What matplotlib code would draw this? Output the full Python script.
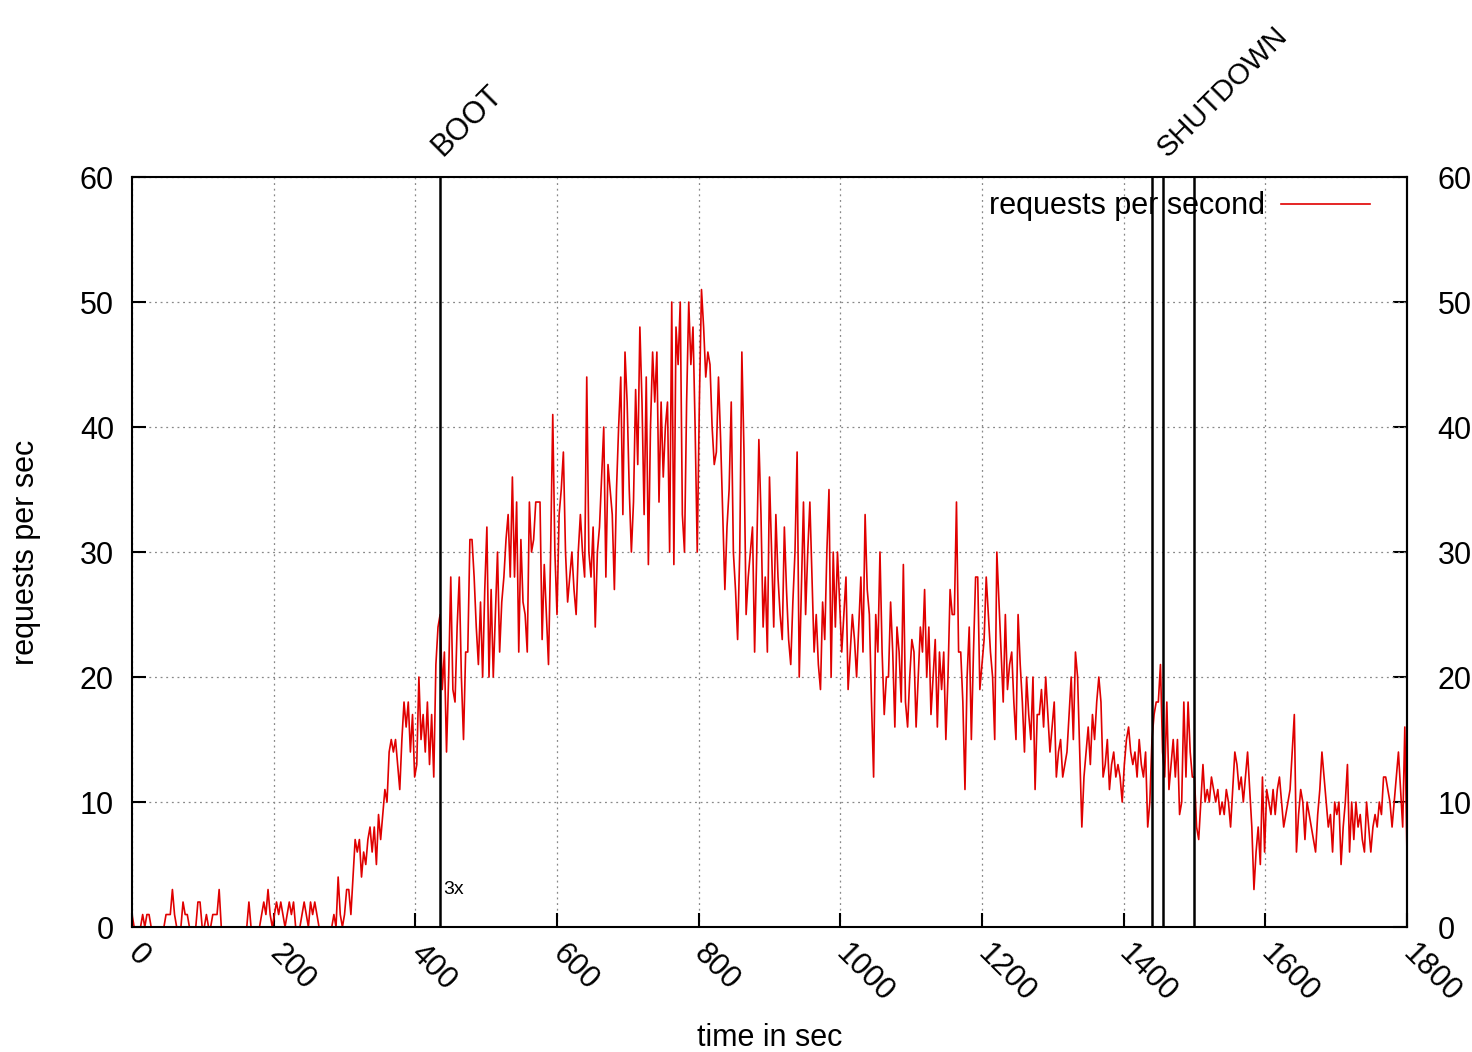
import numpy as np
import matplotlib
matplotlib.use('Agg')
import matplotlib.pyplot as plt

plt.rcParams['font.family'] = ['Liberation Sans', 'DejaVu Sans']

step = 3
rps_0_5min = [
    1, 0, 0, 0, 0, 1, 0, 1, 1, 0, 0, 0, 0, 0, 0, 0, 1, 1, 1, 3,
    1, 0, 0, 0, 2, 1, 1, 0, 0, 0, 0, 2, 2, 0, 0, 1, 0, 0, 1, 1,
    1, 3, 0, 0, 0, 0, 0, 0, 0, 0, 0, 0, 0, 0, 0, 2, 0, 0, 0, 0,
    0, 1, 2, 1, 3, 1, 0, 1, 2, 1, 2, 1, 0, 1, 2, 1, 2, 0, 0, 0,
    1, 2, 1, 0, 2, 1, 2, 1, 0, 0, 0, 0, 0, 0, 0, 1, 0, 4, 1, 0,
]
rps_5_10min = [
    1, 3, 3, 1, 4, 7, 6, 7, 4, 6, 5, 7, 8, 6, 8, 5, 9, 7, 9, 11,
    10, 14, 15, 14, 15, 13, 11, 15, 18, 16, 18, 14, 17, 12, 13, 20, 15, 17, 14, 18,
    13, 17, 12, 21, 24, 25, 19, 22, 14, 20, 28, 19, 18, 24, 28, 20, 15, 22, 22, 31,
    31, 28, 24, 21, 26, 20, 27, 32, 20, 27, 20, 25, 30, 22, 26, 28, 31, 33, 28, 36,
    28, 34, 22, 31, 26, 25, 22, 34, 30, 31, 34, 34, 34, 23, 29, 25, 21, 30, 41, 30,
]
rps_10_15min = [
    25, 33, 35, 38, 30, 26, 28, 30, 27, 25, 30, 33, 30, 28, 44, 30, 28, 32, 24, 30,
    32, 36, 40, 28, 37, 35, 33, 27, 35, 40, 44, 33, 46, 42, 35, 30, 34, 43, 37, 48,
    42, 33, 44, 29, 40, 46, 42, 46, 34, 42, 36, 40, 42, 30, 50, 29, 48, 45, 50, 33,
    30, 42, 50, 45, 48, 40, 30, 42, 51, 48, 44, 46, 45, 40, 37, 38, 44, 39, 33, 27,
    32, 35, 42, 30, 27, 23, 30, 46, 38, 25, 28, 30, 32, 22, 30, 39, 33, 24, 28, 22,
]
rps_15_20min = [
    36, 30, 24, 33, 28, 25, 23, 32, 27, 23, 21, 26, 30, 38, 20, 27, 34, 25, 30, 34,
    28, 22, 25, 21, 19, 26, 23, 30, 35, 20, 30, 24, 30, 26, 22, 25, 28, 19, 22, 25,
    23, 20, 24, 28, 22, 33, 27, 25, 18, 12, 25, 22, 30, 22, 17, 20, 20, 26, 22, 16,
    24, 22, 18, 29, 18, 16, 20, 23, 22, 16, 20, 24, 22, 27, 20, 24, 17, 20, 23, 16,
    22, 19, 22, 15, 20, 27, 25, 25, 34, 22, 22, 18, 11, 20, 24, 15, 22, 28, 28, 19,
]
rps_20_25min = [
    21, 23, 28, 25, 22, 20, 15, 30, 26, 22, 18, 25, 19, 21, 22, 18, 15, 25, 21, 18,
    14, 20, 17, 15, 20, 11, 17, 17, 19, 16, 20, 17, 14, 16, 18, 12, 14, 15, 12, 13,
    14, 17, 20, 15, 22, 20, 14, 8, 12, 14, 16, 13, 17, 15, 18, 20, 18, 12, 13, 15,
    11, 13, 14, 12, 13, 12, 10, 13, 15, 16, 14, 13, 14, 12, 15, 13, 12, 14, 8, 10,
    15, 17, 18, 18, 21, 14, 12, 18, 11, 13, 15, 12, 15, 9, 10, 18, 12, 18, 14, 12,
]
rps_25_30min = [
    12, 8, 7, 10, 13, 10, 11, 10, 12, 11, 10, 11, 9, 10, 9, 11, 10, 8, 11, 14,
    13, 11, 12, 10, 12, 14, 11, 8, 3, 6, 8, 5, 12, 6, 11, 10, 9, 11, 9, 11,
    12, 10, 8, 9, 10, 11, 14, 17, 6, 9, 11, 10, 7, 10, 9, 8, 7, 6, 9, 11,
    14, 12, 10, 8, 9, 6, 10, 9, 10, 5, 8, 10, 13, 6, 10, 7, 10, 8, 9, 7,
    6, 10, 8, 6, 8, 9, 8, 10, 9, 12, 12, 11, 10, 8, 10, 12, 14, 11, 8, 16, 6,
]

boot_time = 435
shutdown_times = [1440, 1455, 1500]
x_ticks = [0, 200, 400, 600, 800, 1000, 1200, 1400, 1600, 1800]
y_ticks = [0, 10, 20, 30, 40, 50, 60]

rps = np.array(rps_0_5min + rps_5_10min + rps_10_15min
               + rps_15_20min + rps_20_25min + rps_25_30min)
seconds = np.arange(len(rps)) * step

fs = 22

fig = plt.figure(figsize=(14.72, 10.52), dpi=100)
ax = fig.add_axes([0.0897, 0.1188, 0.8661, 0.7129])

ax.plot(seconds, rps, color='#e00000', lw=1.2, label='requests per second')

# event markers
ax.axvline(boot_time, color='black', lw=1.8)
for t in shutdown_times:
    ax.axvline(t, color='black', lw=1.8)

ax.annotate('BOOT', xy=(boot_time, 60), xytext=(5, 11), textcoords='offset points',
            rotation=45, rotation_mode='anchor', ha='left', va='bottom', fontsize=fs)
ax.annotate('SHUTDOWN', xy=(shutdown_times[1], 60), xytext=(7, 11), textcoords='offset points',
            rotation=45, rotation_mode='anchor', ha='left', va='bottom', fontsize=21)
ax.text(boot_time + 5, 3, '3x', fontsize=14, ha='left', va='center')

ax.set_xlim(0, 1800)
ax.set_ylim(0, 60)
ax.set_xticks(x_ticks)
ax.set_yticks(y_ticks)
ax.set_xticklabels([str(v) for v in x_ticks], rotation=-45, rotation_mode='anchor',
                   ha='left', va='center')
ax.grid(True, color='#888888', linestyle=(0, (1.5, 3)), lw=0.9)

ax.tick_params(axis='y', direction='in', length=10, width=1.5, labelsize=fs,
               left=True, right=False, labelleft=True, labelright=False, pad=13)
ax.tick_params(axis='x', direction='in', length=10, width=1.5, labelsize=fs,
               bottom=True, top=False, pad=16)
for s in ax.spines.values():
    s.set_linewidth(1.5)

# mirrored y axis on the right, labels a bit further out
right = ax.secondary_yaxis('right')
right.set_yticks(y_ticks)
right.tick_params(direction='in', length=10, width=1.5, labelsize=fs, pad=22)
right.spines['right'].set_linewidth(1.5)

ax.set_xlabel('time in sec', fontsize=fs, va='center')
ax.xaxis.set_label_coords(0.5, -0.148)
ax.set_ylabel('requests per sec', fontsize=fs, va='center')
ax.yaxis.set_label_coords(-0.083, 0.5)

ax.legend(loc='center right', bbox_to_anchor=(0.971, 0.961), frameon=False,
          markerfirst=False, handlelength=2.9, handletextpad=0.55,
          borderpad=0, borderaxespad=0, fontsize=fs)

plt.savefig('out.png', dpi=100)
